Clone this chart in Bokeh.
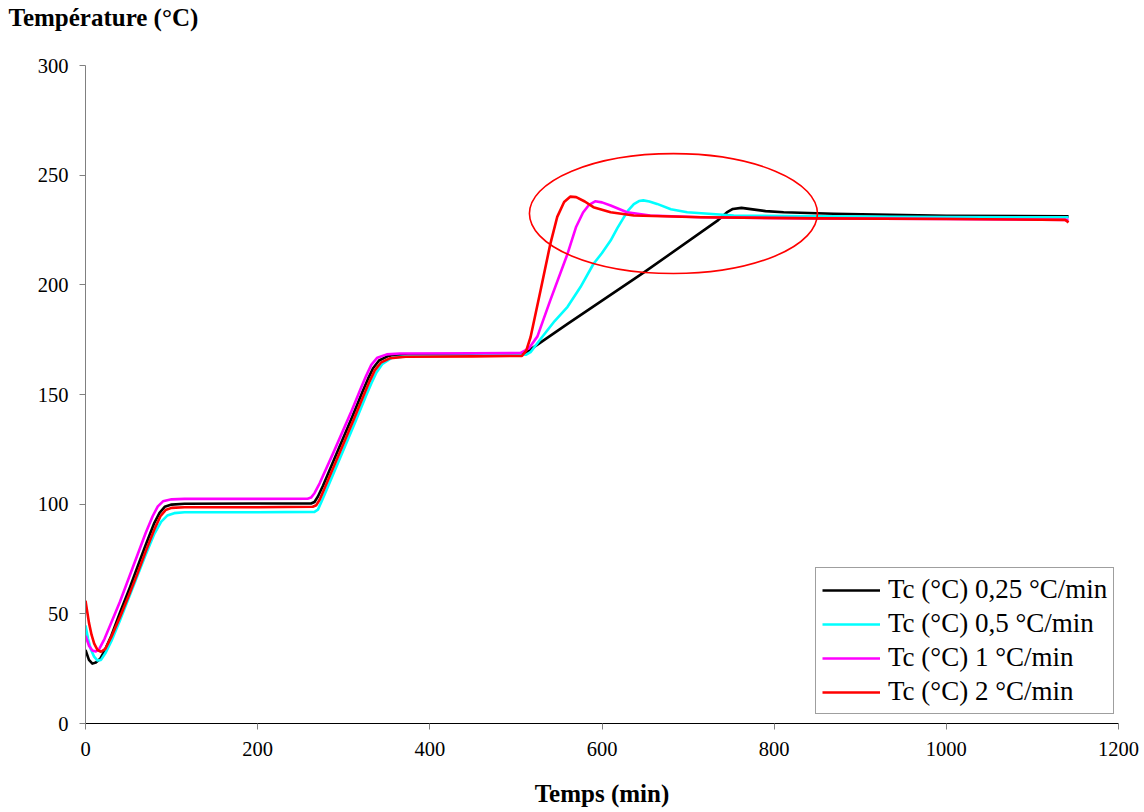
from bokeh.plotting import figure
from bokeh.models import FixedTicker, Range1d, Title, Legend, LegendItem
from bokeh.embed import file_html
from bokeh.resources import INLINE

# ---------------- data ----------------
x_ticks = [0, 200, 400, 600, 800, 1000, 1200]
y_ticks = [0, 50, 100, 150, 200, 250, 300]

series_names = ["Tc (°C) 0,25 °C/min", "Tc (°C) 0,5 °C/min",
                "Tc (°C) 1 °C/min", "Tc (°C) 2 °C/min"]
series_colors = ["#000000", "#00FFFF", "#FF00FF", "#FF0000"]

t_025 = [0, 4, 8, 12, 17, 22, 30, 40, 52, 60, 70, 80, 86, 92, 100, 115, 200,
         262, 266, 270, 276, 290, 310, 322, 328, 334, 341, 352, 370, 450, 509,
         560, 650, 735, 745, 752, 762, 775, 790, 811, 869, 1000, 1142]
T_025 = [33.5, 29, 27.3, 27.8, 29.5, 33, 40, 50.5, 62.5, 71, 81.5, 91.5, 96,
         98.8, 99.8, 100.2, 100.3, 100.3, 101, 103.5, 108.5, 121.5, 140, 151.5,
         157, 162, 165.5, 167.6, 168.2, 168.3, 168.4, 182.2, 206, 229.5, 233,
         234.6, 235.1, 234.4, 233.6, 233.1, 232.4, 231.5, 231.2]

t_05 = [0, 3, 6, 10, 14, 18, 23, 30, 40, 50, 60, 70, 80, 88, 95, 103, 115, 200,
        266, 270, 274, 280, 294, 314, 326, 332, 338, 345, 356, 375, 450, 512,
        517, 530, 545, 560, 575, 590, 600, 610, 618, 625, 631, 637, 643, 648,
        655, 664, 680, 699, 753, 850, 1000, 1142]
T_05 = [44.7, 38.5, 34, 30.5, 28.7, 29, 32, 37.5, 47, 57, 67, 77, 86.5, 92,
        94.8, 95.9, 96.3, 96.3, 96.5, 97.5, 101, 106.5, 119.5, 138, 149.5, 155,
        160, 164, 166.8, 167.5, 167.8, 168.2, 169.3, 176, 183.5, 190, 199,
        209.5, 214.5, 220.2, 226, 230.5, 234.2, 236.8, 238.2, 238.5, 238, 236.9,
        234.5, 233.1, 231.6, 231.2, 230.9, 230.8]

t_1 = [0, 4, 8, 12, 16, 22, 30, 40, 50, 60, 70, 78, 84, 90, 100, 115, 200,
       258, 262, 266, 272, 288, 308, 320, 326, 332, 339, 350, 365, 450, 505,
       515, 525, 540, 560, 570, 578, 585, 592, 600, 610, 629, 656, 715, 850,
       1000, 1142]
T_1 = [40, 35.5, 33.3, 32.8, 34, 38.5, 46, 55.5, 66, 76.5, 87, 94.5, 99, 101.3,
       102.2, 102.4, 102.4, 102.5, 103, 105, 109.5, 123.5, 141.5, 153, 158.5,
       163.5, 166.8, 168.3, 168.7, 168.8, 168.9, 171, 176.5, 193, 214.2, 226.5,
       233, 236.5, 238.1, 237.6, 236.2, 233.1, 231.6, 230.8, 230.3, 230, 229.6]

t_2 = [0, 2, 4, 7, 10, 14, 18, 23, 30, 40, 50, 60, 70, 80, 87, 93, 100, 115,
       200, 264, 268, 272, 278, 292, 312, 324, 330, 336, 343, 354, 372, 450,
       507, 512, 517, 528.6, 540, 548, 556, 563, 570, 580, 590, 610, 637, 715,
       850, 1000, 1138, 1142]
T_2 = [56, 51, 46, 40.5, 36.5, 33.5, 32.7, 34, 39.5, 48.5, 58, 68, 78.5, 88.5,
       94.5, 97.3, 98.3, 98.6, 98.6, 98.8, 99.5, 102, 107.5, 120.5, 139, 150.5,
       156, 161, 164.5, 166.6, 167.2, 167.4, 167.6, 170, 176.1, 197.4, 218.7,
       231, 237.8, 240.2, 240, 238, 235.4, 233.1, 231.6, 230.8, 230.3, 230,
       229.6, 228.5]

# highlight ellipse (data units)
ellipse_x = [683]
ellipse_y = [232.5]
ellipse_w = [334.6]
ellipse_h = [54.7]

# ---------------- figure ----------------
FONT = "Liberation Serif"

p = figure(width=1144, height=812, output_backend="svg", toolbar_location=None,
           x_range=Range1d(0, 1200), y_range=Range1d(0, 300),
           min_border_left=85, min_border_right=26,
           min_border_top=65, min_border_bottom=89)

p.background_fill_color = "white"
p.border_fill_color = "white"
p.outline_line_color = None
p.grid.visible = False

p.xaxis.ticker = FixedTicker(ticks=x_ticks)
p.yaxis.ticker = FixedTicker(ticks=y_ticks)
for ax in (p.xaxis, p.yaxis):
    ax.major_label_text_font = FONT
    ax.major_label_text_font_size = "20.5px"
    ax.major_label_text_color = "black"
    ax.major_tick_in = 0
    ax.major_tick_out = 6
    ax.minor_tick_in = 0
    ax.minor_tick_out = 0
    ax.major_tick_line_color = "#808080"
    ax.major_tick_line_width = 1

p.xaxis.axis_line_color = "#000000"
p.yaxis.axis_line_color = "#808080"
p.xaxis.major_label_standoff = 12
p.yaxis.major_label_standoff = 11

p.xaxis.axis_label = "Temps (min)"
p.xaxis.axis_label_text_font = FONT
p.xaxis.axis_label_text_font_style = "bold"
p.xaxis.axis_label_text_font_size = "25px"
p.xaxis.axis_label_text_color = "black"
p.xaxis.axis_label_standoff = 21

renderers = []
for xs, ys, col in [(t_025, T_025, series_colors[0]),
                    (t_05, T_05, series_colors[1]),
                    (t_1, T_1, series_colors[2]),
                    (t_2, T_2, series_colors[3])]:
    r = p.line(xs, ys, line_color=col, line_width=2.6, line_join="round")
    renderers.append(r)

p.ellipse(x=ellipse_x, y=ellipse_y, width=ellipse_w, height=ellipse_h,
          fill_color=None, line_color="#FF0000", line_width=1.6)

legend = Legend(items=[LegendItem(label=n, renderers=[r])
                       for n, r in zip(series_names, renderers)],
                location=(730, 9))
legend.label_text_font = FONT
legend.label_text_font_size = "27px"
legend.label_text_color = "black"
legend.glyph_width = 58
legend.glyph_height = 28
legend.label_height = 28
legend.label_standoff = 8
legend.spacing = 3
legend.padding = 6
legend.margin = 0
legend.border_line_color = "#404040"
legend.border_line_width = 1
legend.background_fill_color = "white"
legend.background_fill_alpha = 1.0
p.add_layout(legend)

# spacer panel between the frame and the vertical-axis title
spacer = Title(text=" ", text_font_size="10px", standoff=20)
p.add_layout(spacer, "above")

ytitle = Title(text="Température (°C)", align="left", offset=-77,
               vertical_align="top", standoff=0,
               text_font=FONT, text_font_style="bold", text_font_size="25px",
               text_color="black")
p.add_layout(ytitle, "above")

open("out.html", "w").write(file_html(p, INLINE))
